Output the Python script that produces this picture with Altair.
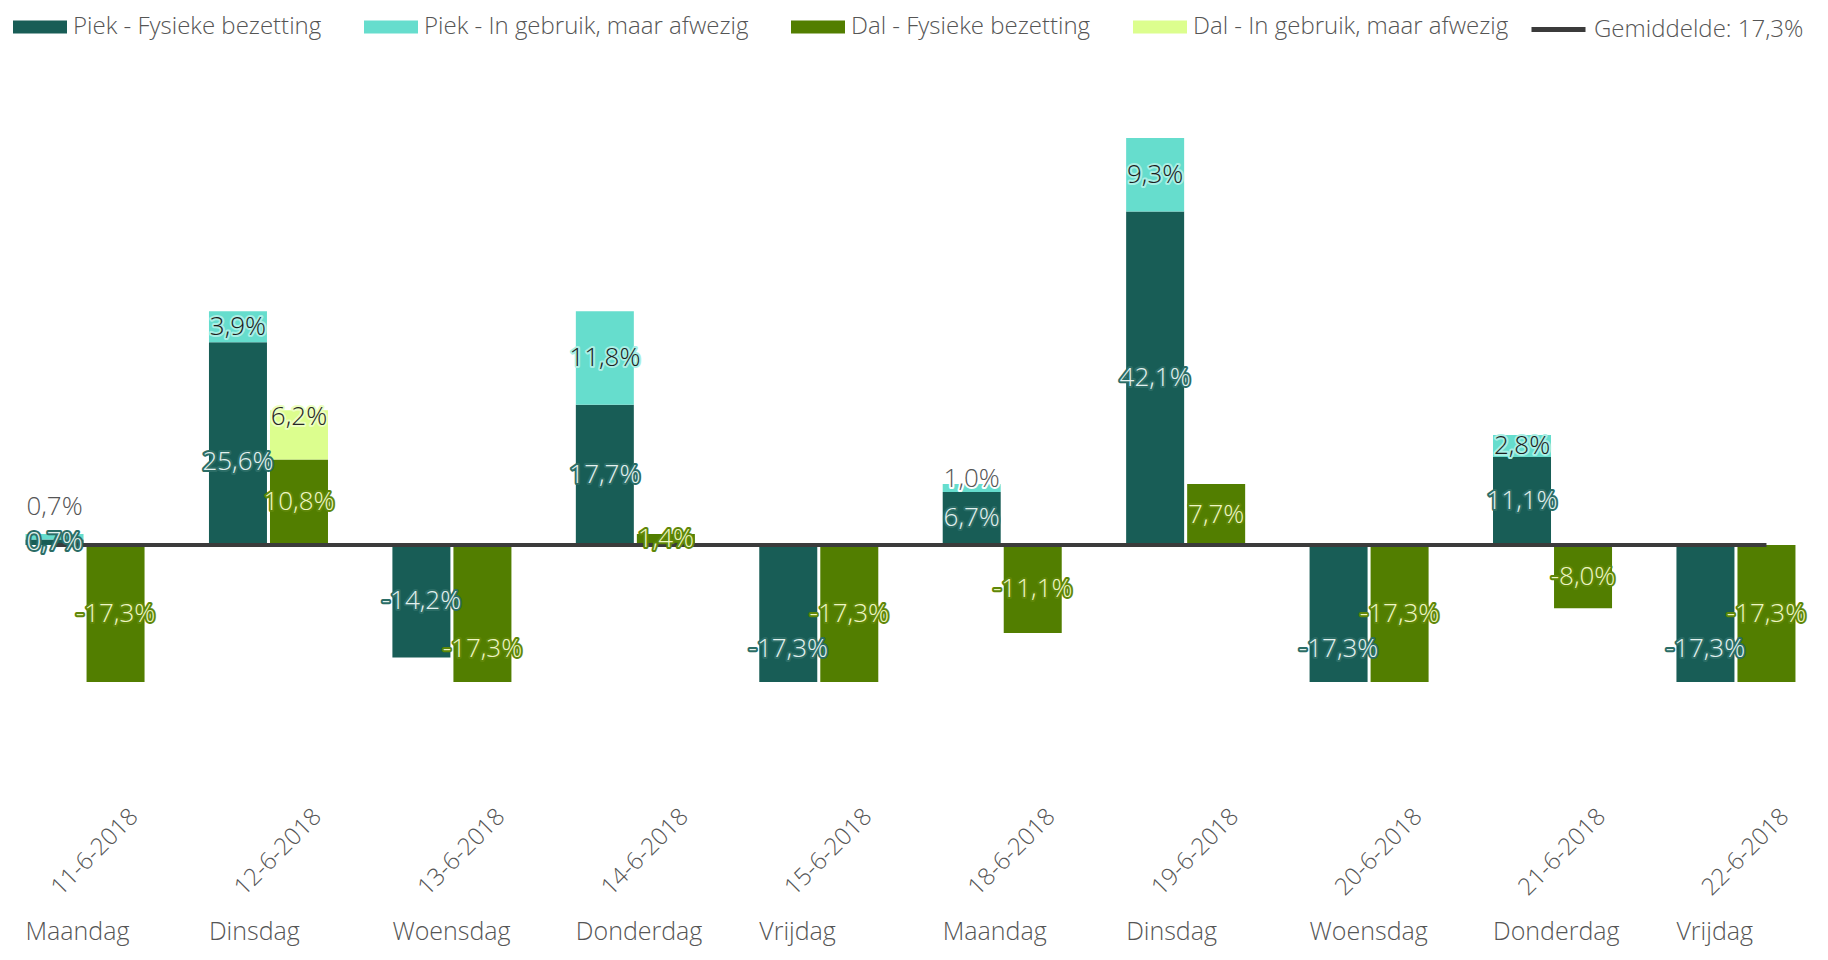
import altair as alt
import pandas as pd

# ---------------- data ----------------
dates = ["11-6-2018", "12-6-2018", "13-6-2018", "14-6-2018", "15-6-2018",
         "18-6-2018", "19-6-2018", "20-6-2018", "21-6-2018", "22-6-2018"]
days = ["Maandag", "Dinsdag", "Woensdag", "Donderdag", "Vrijdag",
        "Maandag", "Dinsdag", "Woensdag", "Donderdag", "Vrijdag"]
piek_fysiek = [0.7, 25.6, -14.2, 17.7, -17.3, 6.7, 42.1, -17.3, 11.1, -17.3]
piek_afwezig = [0.7, 3.9, 0.0, 11.8, 0.0, 1.0, 9.3, 0.0, 2.8, 0.0]
dal_fysiek = [-17.3, 10.8, -17.3, 1.4, -17.3, -11.1, 7.7, -17.3, -8.0, -17.3]
dal_afwezig = [0.0, 6.2, 0.0, 0.0, 0.0, 0.0, 0.0, 0.0, 0.0, 0.0]
series_names = ["Piek - Fysieke bezetting", "Piek - In gebruik, maar afwezig",
                "Dal - Fysieke bezetting", "Dal - In gebruik, maar afwezig"]
avg_name = "Gemiddelde: 17,3%"
groups = ["Piek", "Dal"]

colors = ["#185d56", "#66ddcd", "#527e00", "#dcfe8e"]
line_color = "#3b3b3b"

FONT = "Open Sans"


def fmt(v):
    return f"{v:.1f}".replace(".", ",") + "%"


# ---------------- build tables ----------------
bar_rows, lab_rows = [], []
for i, d in enumerate(dates):
    labs = []
    for g, fys, afw, sf, sa, kf, ka in (
            ("Piek", piek_fysiek, piek_afwezig, series_names[0], series_names[1], "pf", "pa"),
            ("Dal", dal_fysiek, dal_afwezig, series_names[2], series_names[3], "df", "da")):
        v = fys[i]
        bar_rows.append(dict(date=d, group=g, series=sf, y0=0.0, y1=v))
        labs.append(dict(date=d, group=g, kind=kf, text=fmt(v), ly=v / 2.0, neg=v < 0))
        a = afw[i]
        if a > 0:
            base = max(v, 0.0)
            bar_rows.append(dict(date=d, group=g, series=sa, y0=base, y1=base + a))
            labs.append(dict(date=d, group=g, kind=ka, text=fmt(a), ly=base + a / 2.0, neg=False,
                             small=a < 2.0, top=base + a))
    # resolve collisions between labels of the Piek and Dal bar of one day
    piek_l = [l for l in labs if l["group"] == "Piek" and not l.get("small")]
    dal_l = [l for l in labs if l["group"] == "Dal" and not l.get("small")]
    for p in piek_l:
        for q in dal_l:
            if abs(p["ly"] - q["ly"]) < 3.0:
                if p["neg"] and q["neg"]:
                    lower = p if p["ly"] <= q["ly"] else q
                    lower["ly"] -= 4.5
                else:
                    upper, lower = (p, q) if p["ly"] > q["ly"] else (q, p)
                    upper["ly"] += 2.3
                    lower["ly"] -= 2.3
    # small segments: label placed above the stack, clear of the label below it
    for l in labs:
        if l.get("small"):
            below = [m for m in labs if m["group"] == l["group"] and m is not l][0]
            l["ly"] = max(l["top"] + 0.6, below["ly"] + 4.4)
            l["kind"] = "ao"
    for l in labs:
        lab_rows.append(dict(date=l["date"], group=l["group"], kind=l["kind"], text=l["text"], ly=l["ly"]))

bars_df = pd.DataFrame(bar_rows)
labels_df = pd.DataFrame(lab_rows)
days_df = pd.DataFrame(dict(date=dates, day=days))
line_df = pd.DataFrame(dict(date=[dates[0], dates[-1]], group=["Piek", "Dal"], y=[0.0, 0.0],
                            series=[avg_name, avg_name]))

kinds = ["pf", "df", "pa", "da", "ao"]
fg_colors = ["#e3f1ef", "#eef6c4", "#1c1c1c", "#262626", "#555555"]
halo_colors = ["#2b6d66", "#5f8709", "#a9efe5", "#ecffc0", "#ffffff"]

# ---------------- encodings ----------------
x_enc = alt.X("date:N", sort=dates, title=None,
              scale=alt.Scale(paddingInner=0.351, paddingOuter=0.0955),
              axis=alt.Axis(labelAngle=315, labelAlign="center", labelBaseline="middle",
                            labelPadding=69, labelOffset=10, ticks=False, domain=False,
                            grid=False, labelFont=FONT, labelFontSize=24, labelFontWeight=300,
                            labelColor="#555555", labelOverlap=False, labelBound=False))
xo_enc = alt.XOffset("group:N", sort=groups, scale=alt.Scale(domain=groups, paddingInner=0.049, paddingOuter=0))
y_scale = alt.Scale(domain=[-30.05, 67.8], nice=False, zero=False)

bar_legend = alt.Legend(
    orient="none", legendX=5, legendY=-8, direction="horizontal", columns=4, title=None,
    symbolType="M-1,-0.24L1,-0.24L1,0.24L-1,0.24Z", symbolSize=2916,
    symbolStrokeWidth=0, symbolOpacity=1, labelFont=FONT, labelFontSize=24, labelFontWeight=300,
    labelColor="#555555", labelLimit=600, labelOffset=6, columnPadding=42, padding=0,
)
line_legend = alt.Legend(
    orient="none", legendX=1521, legendY=-8, direction="horizontal", title=None,
    symbolType="stroke", symbolSize=2916, symbolStrokeWidth=5,
    labelFont=FONT, labelFontSize=24, labelFontWeight=300,
    labelColor="#555555", labelLimit=600, labelOffset=6, padding=0,
)

bars = alt.Chart(bars_df).mark_bar(size=58).encode(
    x=x_enc,
    xOffset=xo_enc,
    y=alt.Y("y0:Q", scale=y_scale, axis=None),
    y2="y1:Q",
    color=alt.Color("series:N", scale=alt.Scale(domain=series_names, range=colors), legend=bar_legend),
)

line = alt.Chart(line_df).mark_line(strokeWidth=4).encode(
    x=alt.X("date:N", sort=dates),
    xOffset=alt.XOffset("group:N", sort=groups),
    y=alt.Y("y:Q", scale=y_scale),
    color=alt.Color("series:N", scale=alt.Scale(domain=[avg_name], range=[line_color]), legend=line_legend),
)

halo = alt.Chart(labels_df).mark_text(font=FONT, fontSize=26, fontWeight=300, strokeWidth=4,
                                      strokeJoin="round", baseline="middle").encode(
    x=alt.X("date:N", sort=dates),
    xOffset=alt.XOffset("group:N", sort=groups),
    y=alt.Y("ly:Q", scale=y_scale),
    text="text:N",
    stroke=alt.Stroke("kind:N", scale=alt.Scale(domain=kinds, range=halo_colors), legend=None),
    color=alt.Color("kind:N", scale=alt.Scale(domain=kinds, range=halo_colors), legend=None),
)

text = alt.Chart(labels_df).mark_text(font=FONT, fontSize=26, fontWeight=300, baseline="middle").encode(
    x=alt.X("date:N", sort=dates),
    xOffset=alt.XOffset("group:N", sort=groups),
    y=alt.Y("ly:Q", scale=y_scale),
    text="text:N",
    color=alt.Color("kind:N", scale=alt.Scale(domain=kinds, range=fg_colors), legend=None),
)

day_text = alt.Chart(days_df).mark_text(font=FONT, fontSize=25, fontWeight=300, align="left",
                                        baseline="alphabetic", color="#555555").encode(
    x=alt.X("date:N", sort=dates, bandPosition=0),
    y=alt.value(932),
    text="day:N",
)

chart = alt.layer(bars, line, halo, text, day_text).resolve_scale(color="independent").properties(
    width=1805, height=775,
    padding={"left": 0, "top": 0, "right": 7, "bottom": 169},
    autosize=alt.AutoSizeParams(type="none"),
    background="white",
).configure_view(stroke=None)

chart.save("out.html", embed_options={"renderer": "svg", "actions": False})
